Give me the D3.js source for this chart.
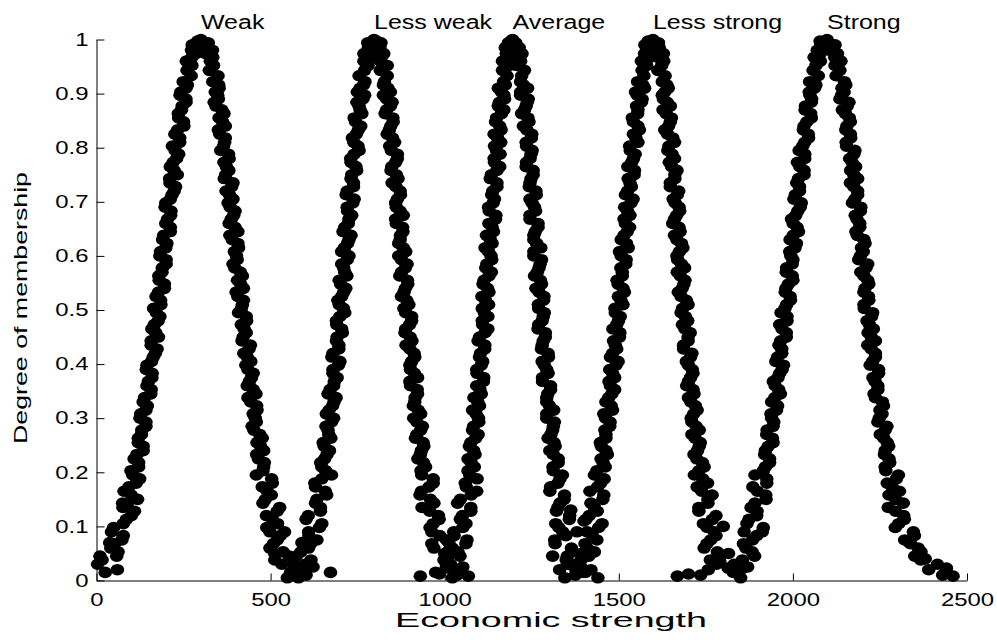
<!DOCTYPE html>
<html>
<head>
<meta charset="utf-8">
<script src="https://cdn.jsdelivr.net/npm/d3@7"></script>
<style>
  body { margin: 0; background: #fff; }
  svg text { font-family: "Liberation Sans", Arial, sans-serif; fill: #000; }
</style>
</head>
<body>
<script>
// Category names and where their labels start (x of each peak)
var categories = ["Weak", "Less weak", "Average", "Less strong", "Strong"];
var labelX = [300, 797, 1195, 1598, 2098];
var labelY = 1.02;

// Tick labels
var xTicks = [0, 500, 1000, 1500, 2000, 2500];
var yTicks = [0, 0.1, 0.2, 0.3, 0.4, 0.5, 0.6, 0.7, 0.8, 0.9, 1];

// Scatter points [economic strength, degree of membership]
var weak = [[3,0.03],[58,0.045],[41,0.06],[73,0.075],[43,0.09],[77,0.105],[100,0.12],[76,0.135],[118,0.15],[79,0.165],[114,0.18],[104,0.195],[121,0.21],[108,0.225],[134,0.24],[120,0.255],[129,0.27],[142,0.285],[125,0.3],[142,0.315],[134,0.33],[156,0.345],[145,0.36],[159,0.375],[143,0.39],[158,0.405],[169,0.42],[157,0.435],[178,0.45],[159,0.465],[177,0.48],[172,0.495],[185,0.51],[171,0.525],[195,0.54],[180,0.555],[188,0.57],[200,0.585],[182,0.6],[199,0.615],[190,0.63],[212,0.645],[199,0.66],[213,0.675],[197,0.69],[212,0.705],[223,0.72],[211,0.735],[232,0.75],[212,0.765],[230,0.78],[226,0.795],[239,0.81],[225,0.825],[251,0.84],[236,0.855],[244,0.87],[257,0.884],[240,0.897],[257,0.91],[249,0.922],[272,0.933],[260,0.943],[274,0.952],[258,0.96],[274,0.967],[285,0.974],[273,0.98],[294,0.985],[275,0.99],[293,0.994],[290,0.997],[300,1],
  [16,0.038],[62,0.053],[52,0.068],[77,0.083],[49,0.098],[86,0.113],[109,0.128],[75,0.143],[100,0.158],[93,0.173],[124,0.188],[99,0.203],[121,0.218],[116,0.233],[134,0.248],[120,0.263],[130,0.278],[142,0.293],[127,0.308],[146,0.323],[138,0.338],[157,0.353],[149,0.368],[160,0.383],[145,0.398],[163,0.413],[174,0.428],[157,0.443],[170,0.458],[166,0.473],[182,0.488],[164,0.503],[184,0.518],[178,0.533],[195,0.548],[179,0.563],[189,0.578],[200,0.593],[184,0.608],[202,0.623],[193,0.638],[212,0.653],[204,0.668],[214,0.683],[199,0.698],[217,0.713],[227,0.728],[210,0.743],[223,0.758],[220,0.773],[236,0.788],[218,0.803],[239,0.818],[233,0.833],[250,0.848],[235,0.863],[246,0.877],[257,0.89],[242,0.903],[261,0.916],
  [585,0.015],[532,0.03],[553,0.045],[498,0.06],[519,0.075],[498,0.09],[520,0.105],[488,0.12],[526,0.135],[485,0.15],[490,0.165],[505,0.18],[459,0.195],[480,0.21],[465,0.225],[480,0.24],[461,0.255],[469,0.27],[447,0.285],[456,0.3],[461,0.315],[443,0.33],[458,0.345],[433,0.36],[445,0.375],[435,0.39],[443,0.405],[423,0.42],[442,0.435],[421,0.45],[424,0.465],[431,0.48],[408,0.495],[419,0.51],[406,0.525],[422,0.54],[405,0.555],[413,0.57],[392,0.585],[402,0.6],[408,0.615],[390,0.63],[406,0.645],[381,0.66],[394,0.675],[384,0.69],[392,0.705],[372,0.72],[392,0.735],[371,0.75],[373,0.765],[381,0.78],[357,0.795],[368,0.81],[354,0.825],[370,0.84],[352,0.855],[360,0.87],[338,0.884],[348,0.897],[352,0.91],[334,0.922],[349,0.933],[324,0.943],[336,0.952],[327,0.96],[334,0.967],[314,0.974],[333,0.98],[312,0.985],[314,0.99],[321,0.994],[297,0.997],
  [573,0.023],[512,0.038],[536,0.053],[508,0.068],[528,0.083],[489,0.098],[505,0.113],[519,0.128],[478,0.143],[502,0.158],[476,0.173],[503,0.188],[478,0.203],[482,0.218],[460,0.233],[471,0.248],[476,0.263],[452,0.278],[459,0.293],[450,0.308],[460,0.323],[435,0.338],[450,0.353],[439,0.368],[450,0.383],[429,0.398],[433,0.413],[438,0.428],[418,0.443],[430,0.458],[416,0.473],[430,0.488],[416,0.503],[422,0.518],[401,0.533],[414,0.548],[419,0.563],[397,0.578],[404,0.593],[396,0.608],[406,0.623],[383,0.638],[398,0.653],[387,0.668],[398,0.683],[378,0.698],[382,0.713],[388,0.728],[367,0.743],[380,0.758],[366,0.773],[379,0.788],[365,0.803],[370,0.818],[350,0.833],[362,0.848],[366,0.863],[343,0.877],[350,0.89],[341,0.903],[351,0.916],
  [10,0.045],[25,0.015],[38,0.07],[60,0.02],[88,0.14],[548,0.005],[566,0.03],[512,0.05],[540,0.09]];

var lessWeak = [[557,0.015],[599,0.03],[574,0.045],[609,0.06],[633,0.075],[609,0.09],[647,0.105],[608,0.12],[643,0.135],[633,0.15],[657,0.165],[627,0.18],[675,0.195],[647,0.21],[655,0.225],[669,0.24],[651,0.255],[667,0.27],[659,0.285],[681,0.3],[668,0.315],[682,0.33],[665,0.345],[681,0.36],[691,0.375],[679,0.39],[699,0.405],[679,0.42],[696,0.435],[691,0.45],[704,0.465],[689,0.48],[713,0.495],[697,0.51],[704,0.525],[716,0.54],[697,0.555],[713,0.57],[704,0.585],[725,0.6],[712,0.615],[725,0.63],[708,0.645],[723,0.66],[733,0.675],[720,0.69],[740,0.705],[720,0.72],[738,0.735],[733,0.75],[745,0.765],[730,0.78],[754,0.795],[739,0.81],[746,0.825],[759,0.84],[740,0.855],[757,0.87],[748,0.884],[770,0.897],[757,0.91],[771,0.922],[754,0.933],[770,0.943],[780,0.952],[768,0.96],[788,0.967],[768,0.974],[786,0.98],[781,0.985],[793,0.99],[779,0.994],[804,0.997],[797,1],
  [583,0.023],[616,0.038],[587,0.053],[615,0.068],[610,0.083],[640,0.098],[602,0.113],[643,0.128],[629,0.143],[661,0.158],[629,0.173],[647,0.188],[658,0.203],[644,0.218],[662,0.233],[654,0.248],[673,0.263],[665,0.278],[675,0.293],[660,0.308],[678,0.323],[688,0.338],[671,0.353],[683,0.368],[679,0.383],[695,0.398],[676,0.413],[696,0.428],[689,0.443],[706,0.458],[690,0.473],[699,0.488],[709,0.503],[693,0.518],[710,0.533],[701,0.548],[719,0.563],[710,0.578],[720,0.593],[704,0.608],[721,0.623],[731,0.638],[713,0.653],[725,0.668],[721,0.683],[736,0.698],[717,0.713],[738,0.728],[731,0.743],[747,0.758],[731,0.773],[740,0.788],[751,0.803],[735,0.818],[752,0.833],[744,0.848],[762,0.863],[754,0.877],[765,0.89],[749,0.903],[767,0.916],
  [1039,0.015],[1005,0.03],[1012,0.045],[969,0.06],[1005,0.075],[963,0.09],[967,0.105],[982,0.12],[935,0.135],[959,0.15],[933,0.165],[967,0.18],[934,0.195],[945,0.21],[923,0.225],[933,0.24],[938,0.255],[920,0.27],[936,0.285],[911,0.3],[924,0.315],[914,0.33],[922,0.345],[902,0.36],[922,0.375],[902,0.39],[905,0.405],[912,0.42],[889,0.435],[901,0.45],[888,0.465],[905,0.48],[888,0.495],[897,0.51],[876,0.525],[887,0.54],[893,0.555],[876,0.57],[892,0.585],[868,0.6],[881,0.615],[872,0.63],[880,0.645],[861,0.66],[881,0.675],[861,0.69],[864,0.705],[872,0.72],[849,0.735],[861,0.75],[848,0.765],[864,0.78],[847,0.795],[856,0.81],[835,0.825],[845,0.84],[851,0.855],[833,0.87],[849,0.884],[824,0.897],[837,0.91],[827,0.922],[835,0.933],[815,0.943],[835,0.952],[815,0.96],[818,0.967],[825,0.974],[802,0.98],[814,0.985],[800,0.99],[817,0.994],
  [1004,0.023],[1002,0.038],[1008,0.053],[963,0.068],[986,0.083],[958,0.098],[984,0.113],[957,0.128],[969,0.143],[929,0.158],[955,0.173],[967,0.188],[932,0.203],[939,0.218],[930,0.233],[940,0.248],[916,0.263],[931,0.278],[920,0.293],[931,0.308],[910,0.323],[915,0.338],[921,0.353],[900,0.368],[913,0.383],[900,0.398],[914,0.413],[900,0.428],[906,0.443],[886,0.458],[899,0.473],[905,0.488],[883,0.503],[891,0.518],[883,0.533],[894,0.548],[871,0.563],[887,0.578],[876,0.593],[888,0.608],[868,0.623],[873,0.638],[879,0.653],[859,0.668],[872,0.683],[859,0.698],[873,0.713],[860,0.728],[866,0.743],[846,0.758],[859,0.773],[864,0.788],[842,0.803],[850,0.818],[841,0.833],[852,0.848],[829,0.863],[844,0.877],[833,0.89],[844,0.903],[824,0.916],
  [580,0.005],[602,0.01],[622,0.025],[590,0.07],[672,0.015],[930,0.008],[985,0.012],[1000,0.05],[1022,0.005]];

var average = [[974,0.015],[1017,0.03],[1044,0.045],[1022,0.06],[1064,0.075],[1026,0.09],[1061,0.105],[1051,0.12],[1075,0.135],[1045,0.15],[1092,0.165],[1059,0.18],[1072,0.195],[1085,0.21],[1067,0.225],[1083,0.24],[1075,0.255],[1096,0.27],[1083,0.285],[1097,0.3],[1080,0.315],[1095,0.33],[1105,0.345],[1092,0.36],[1112,0.375],[1092,0.39],[1109,0.405],[1103,0.42],[1115,0.435],[1100,0.45],[1124,0.465],[1108,0.48],[1114,0.495],[1126,0.51],[1107,0.525],[1123,0.54],[1113,0.555],[1134,0.57],[1121,0.585],[1133,0.6],[1116,0.615],[1131,0.63],[1140,0.645],[1127,0.66],[1147,0.675],[1126,0.69],[1143,0.705],[1138,0.72],[1150,0.735],[1134,0.75],[1158,0.765],[1142,0.78],[1149,0.795],[1161,0.81],[1142,0.825],[1158,0.84],[1149,0.855],[1170,0.87],[1157,0.884],[1170,0.897],[1154,0.91],[1169,0.922],[1179,0.933],[1166,0.943],[1186,0.952],[1166,0.96],[1182,0.967],[1177,0.974],[1189,0.98],[1174,0.985],[1198,0.99],[1183,0.994],[1190,0.997],[1195,1],
  [1020,0.023],[998,0.038],[1038,0.053],[1061,0.068],[1027,0.083],[1052,0.098],[1045,0.113],[1075,0.128],[1037,0.143],[1076,0.158],[1062,0.173],[1093,0.188],[1067,0.203],[1076,0.218],[1087,0.233],[1071,0.248],[1089,0.263],[1080,0.278],[1098,0.293],[1090,0.308],[1100,0.323],[1084,0.338],[1101,0.353],[1111,0.368],[1093,0.383],[1105,0.398],[1100,0.413],[1115,0.428],[1096,0.443],[1116,0.458],[1109,0.473],[1124,0.488],[1108,0.503],[1117,0.518],[1127,0.533],[1110,0.548],[1127,0.563],[1118,0.578],[1135,0.593],[1126,0.608],[1136,0.623],[1120,0.638],[1136,0.653],[1146,0.668],[1128,0.683],[1139,0.698],[1135,0.713],[1150,0.728],[1131,0.743],[1150,0.758],[1143,0.773],[1159,0.788],[1143,0.803],[1152,0.818],[1162,0.833],[1146,0.848],[1163,0.863],[1154,0.877],[1172,0.89],[1163,0.903],[1174,0.916],
  [1404,0.015],[1352,0.03],[1352,0.045],[1364,0.06],[1316,0.075],[1339,0.09],[1319,0.105],[1359,0.12],[1325,0.135],[1343,0.15],[1302,0.165],[1325,0.18],[1338,0.195],[1311,0.21],[1326,0.225],[1302,0.24],[1314,0.255],[1305,0.27],[1312,0.285],[1293,0.3],[1313,0.315],[1293,0.33],[1296,0.345],[1304,0.36],[1281,0.375],[1293,0.39],[1280,0.405],[1297,0.42],[1280,0.435],[1289,0.45],[1268,0.465],[1280,0.48],[1286,0.495],[1269,0.51],[1285,0.525],[1262,0.54],[1275,0.555],[1266,0.57],[1274,0.585],[1256,0.6],[1276,0.615],[1256,0.63],[1260,0.645],[1268,0.66],[1245,0.675],[1258,0.69],[1245,0.705],[1262,0.72],[1245,0.735],[1254,0.75],[1234,0.765],[1245,0.78],[1251,0.795],[1234,0.81],[1250,0.825],[1226,0.84],[1239,0.855],[1229,0.87],[1237,0.884],[1218,0.897],[1238,0.91],[1218,0.922],[1221,0.933],[1229,0.943],[1206,0.952],[1218,0.96],[1205,0.967],[1222,0.974],[1205,0.98],[1214,0.985],[1193,0.99],[1204,0.994],
  [1374,0.023],[1349,0.038],[1366,0.053],[1317,0.068],[1348,0.083],[1328,0.098],[1358,0.113],[1321,0.128],[1331,0.143],[1344,0.158],[1304,0.173],[1331,0.188],[1312,0.203],[1326,0.218],[1312,0.233],[1317,0.248],[1297,0.263],[1310,0.278],[1315,0.293],[1293,0.308],[1301,0.323],[1293,0.338],[1304,0.353],[1281,0.368],[1297,0.383],[1286,0.398],[1298,0.413],[1278,0.428],[1283,0.443],[1289,0.458],[1270,0.473],[1283,0.488],[1270,0.503],[1284,0.518],[1271,0.533],[1278,0.548],[1258,0.563],[1271,0.578],[1278,0.593],[1256,0.608],[1264,0.623],[1256,0.638],[1268,0.653],[1245,0.668],[1261,0.683],[1251,0.698],[1263,0.713],[1243,0.728],[1248,0.743],[1254,0.758],[1235,0.773],[1248,0.788],[1235,0.803],[1249,0.818],[1236,0.833],[1242,0.848],[1221,0.863],[1234,0.877],[1240,0.89],[1218,0.903],[1226,0.916],
  [1035,0.01],[1052,0.025],[1068,0.008],[1012,0.07],[1330,0.02],[1345,0.005],[1310,0.045],[1380,0.09],[1362,0.13]];

var lessStrong = [[1396,0.015],[1372,0.03],[1414,0.045],[1409,0.06],[1437,0.075],[1409,0.09],[1452,0.105],[1415,0.12],[1430,0.135],[1454,0.15],[1417,0.165],[1448,0.18],[1430,0.195],[1461,0.21],[1449,0.225],[1463,0.24],[1447,0.255],[1463,0.27],[1474,0.285],[1462,0.3],[1482,0.315],[1463,0.33],[1480,0.345],[1476,0.36],[1488,0.375],[1474,0.39],[1498,0.405],[1482,0.42],[1490,0.435],[1502,0.45],[1483,0.465],[1499,0.48],[1490,0.495],[1512,0.51],[1499,0.525],[1512,0.54],[1495,0.555],[1510,0.57],[1520,0.585],[1507,0.6],[1527,0.615],[1507,0.63],[1524,0.645],[1519,0.66],[1532,0.675],[1517,0.69],[1541,0.705],[1525,0.72],[1532,0.735],[1544,0.75],[1526,0.765],[1542,0.78],[1533,0.795],[1555,0.81],[1542,0.825],[1555,0.84],[1539,0.855],[1555,0.87],[1565,0.884],[1553,0.897],[1574,0.91],[1554,0.922],[1572,0.933],[1567,0.943],[1580,0.952],[1565,0.96],[1589,0.967],[1574,0.974],[1581,0.98],[1593,0.985],[1575,0.99],[1592,0.994],[1584,0.997],[1598,1],
  [1394,0.023],[1392,0.038],[1430,0.053],[1403,0.068],[1424,0.083],[1442,0.098],[1406,0.113],[1438,0.128],[1420,0.143],[1457,0.158],[1439,0.173],[1458,0.188],[1437,0.203],[1455,0.218],[1467,0.233],[1450,0.248],[1463,0.263],[1460,0.278],[1475,0.293],[1457,0.308],[1478,0.323],[1471,0.338],[1488,0.353],[1472,0.368],[1482,0.383],[1492,0.398],[1476,0.413],[1494,0.428],[1485,0.443],[1503,0.458],[1494,0.473],[1504,0.488],[1489,0.503],[1506,0.518],[1516,0.533],[1498,0.548],[1510,0.563],[1506,0.578],[1521,0.593],[1502,0.608],[1522,0.623],[1515,0.638],[1531,0.653],[1515,0.668],[1525,0.683],[1535,0.698],[1519,0.713],[1536,0.728],[1527,0.743],[1545,0.758],[1537,0.773],[1547,0.788],[1531,0.803],[1549,0.818],[1559,0.833],[1542,0.848],[1554,0.863],[1551,0.877],[1567,0.89],[1548,0.903],[1569,0.916],
  [1829,0.015],[1781,0.03],[1791,0.045],[1745,0.06],[1764,0.075],[1774,0.09],[1743,0.105],[1779,0.12],[1730,0.135],[1756,0.15],[1738,0.165],[1755,0.18],[1717,0.195],[1745,0.21],[1724,0.225],[1726,0.24],[1734,0.255],[1710,0.27],[1722,0.285],[1708,0.3],[1725,0.315],[1707,0.33],[1716,0.345],[1695,0.36],[1706,0.375],[1711,0.39],[1694,0.405],[1710,0.42],[1686,0.435],[1699,0.45],[1690,0.465],[1698,0.48],[1679,0.495],[1699,0.51],[1679,0.525],[1682,0.54],[1690,0.555],[1668,0.57],[1680,0.585],[1667,0.6],[1684,0.615],[1667,0.63],[1676,0.645],[1655,0.66],[1666,0.675],[1673,0.69],[1656,0.705],[1672,0.72],[1648,0.735],[1661,0.75],[1652,0.765],[1660,0.78],[1641,0.795],[1660,0.81],[1640,0.825],[1643,0.84],[1651,0.855],[1627,0.87],[1639,0.884],[1625,0.897],[1642,0.91],[1625,0.922],[1633,0.933],[1612,0.943],[1623,0.952],[1629,0.96],[1612,0.967],[1628,0.974],[1603,0.98],[1616,0.985],[1607,0.99],[1614,0.994],
  [1814,0.023],[1763,0.038],[1783,0.053],[1753,0.068],[1779,0.083],[1754,0.098],[1769,0.113],[1730,0.128],[1756,0.143],[1768,0.158],[1725,0.173],[1741,0.188],[1730,0.203],[1740,0.218],[1716,0.233],[1731,0.248],[1719,0.263],[1731,0.278],[1710,0.293],[1715,0.308],[1720,0.323],[1700,0.338],[1713,0.353],[1700,0.368],[1713,0.383],[1700,0.398],[1706,0.413],[1686,0.428],[1699,0.443],[1705,0.458],[1683,0.473],[1691,0.488],[1683,0.503],[1694,0.518],[1671,0.533],[1687,0.548],[1677,0.563],[1689,0.578],[1669,0.593],[1674,0.608],[1680,0.623],[1660,0.638],[1673,0.653],[1660,0.668],[1675,0.683],[1662,0.698],[1668,0.713],[1648,0.728],[1661,0.743],[1667,0.758],[1645,0.773],[1653,0.788],[1644,0.803],[1655,0.818],[1632,0.833],[1648,0.848],[1636,0.863],[1648,0.877],[1628,0.89],[1632,0.903],[1638,0.916],
  [1375,0.01],[1392,0.05],[1420,0.02],[1440,0.005],[1400,0.11],[1668,0.008],[1700,0.012],[1735,0.01],[1757,0.02],[1790,0.035]];

var strong = [[1842,0.015],[1831,0.03],[1890,0.045],[1865,0.06],[1884,0.075],[1912,0.09],[1868,0.105],[1896,0.12],[1880,0.135],[1923,0.15],[1898,0.165],[1925,0.18],[1891,0.195],[1921,0.21],[1933,0.225],[1921,0.24],[1943,0.255],[1925,0.27],[1943,0.285],[1939,0.3],[1953,0.315],[1939,0.33],[1964,0.345],[1949,0.36],[1957,0.375],[1969,0.39],[1951,0.405],[1968,0.42],[1960,0.435],[1981,0.45],[1969,0.465],[1983,0.48],[1966,0.495],[1982,0.51],[1992,0.525],[1980,0.54],[2000,0.555],[1981,0.57],[1998,0.585],[1994,0.6],[2006,0.615],[1992,0.63],[2016,0.645],[2001,0.66],[2008,0.675],[2021,0.69],[2003,0.705],[2019,0.72],[2011,0.735],[2032,0.75],[2020,0.765],[2034,0.78],[2018,0.795],[2034,0.81],[2044,0.825],[2032,0.84],[2053,0.855],[2035,0.87],[2053,0.884],[2049,0.897],[2062,0.91],[2048,0.922],[2073,0.933],[2058,0.943],[2066,0.952],[2079,0.96],[2061,0.967],[2078,0.974],[2070,0.98],[2091,0.985],[2080,0.99],[2094,0.994],[2078,0.997],[2098,1],
  [1857,0.023],[1855,0.038],[1883,0.053],[1858,0.068],[1896,0.083],[1915,0.098],[1874,0.113],[1897,0.128],[1891,0.143],[1922,0.158],[1885,0.173],[1925,0.188],[1915,0.203],[1933,0.218],[1919,0.233],[1929,0.248],[1941,0.263],[1926,0.278],[1945,0.293],[1937,0.308],[1956,0.323],[1948,0.338],[1959,0.353],[1944,0.368],[1962,0.383],[1973,0.398],[1956,0.413],[1968,0.428],[1965,0.443],[1981,0.458],[1962,0.473],[1983,0.488],[1977,0.503],[1993,0.518],[1978,0.533],[1987,0.548],[1998,0.563],[1982,0.578],[2000,0.593],[1991,0.608],[2010,0.623],[2001,0.638],[2012,0.653],[1996,0.668],[2014,0.683],[2024,0.698],[2007,0.713],[2019,0.728],[2016,0.743],[2032,0.758],[2013,0.773],[2034,0.788],[2028,0.803],[2045,0.818],[2030,0.833],[2040,0.848],[2051,0.863],[2036,0.877],[2054,0.89],[2047,0.903],[2066,0.916],
  [2440,0.015],[2415,0.03],[2350,0.045],[2360,0.06],[2321,0.075],[2346,0.09],[2304,0.105],[2318,0.12],[2274,0.135],[2295,0.15],[2306,0.165],[2271,0.18],[2303,0.195],[2265,0.21],[2276,0.225],[2265,0.24],[2271,0.255],[2251,0.27],[2270,0.285],[2248,0.3],[2250,0.315],[2257,0.33],[2233,0.345],[2244,0.36],[2230,0.375],[2246,0.39],[2229,0.405],[2237,0.42],[2215,0.435],[2225,0.45],[2231,0.465],[2213,0.48],[2229,0.495],[2204,0.51],[2217,0.525],[2207,0.54],[2215,0.555],[2195,0.57],[2215,0.585],[2194,0.6],[2197,0.615],[2204,0.63],[2181,0.645],[2192,0.66],[2179,0.675],[2195,0.69],[2178,0.705],[2186,0.72],[2165,0.735],[2175,0.75],[2180,0.765],[2163,0.78],[2178,0.795],[2153,0.81],[2165,0.825],[2155,0.84],[2162,0.855],[2142,0.87],[2161,0.884],[2140,0.897],[2141,0.91],[2148,0.922],[2124,0.933],[2135,0.943],[2121,0.952],[2138,0.96],[2120,0.967],[2128,0.974],[2106,0.98],[2116,0.985],[2121,0.99],[2103,0.994],
  [2441,0.023],[2367,0.038],[2368,0.053],[2338,0.068],[2349,0.083],[2294,0.098],[2320,0.113],[2295,0.128],[2317,0.143],[2276,0.158],[2285,0.173],[2297,0.188],[2267,0.203],[2278,0.218],[2263,0.233],[2275,0.248],[2261,0.263],[2265,0.278],[2244,0.293],[2256,0.308],[2260,0.323],[2237,0.338],[2244,0.353],[2236,0.368],[2246,0.383],[2222,0.398],[2237,0.413],[2225,0.428],[2237,0.443],[2216,0.458],[2220,0.473],[2226,0.488],[2205,0.503],[2218,0.518],[2204,0.533],[2218,0.548],[2204,0.563],[2210,0.578],[2189,0.593],[2202,0.608],[2207,0.623],[2185,0.638],[2192,0.653],[2184,0.668],[2194,0.683],[2171,0.698],[2186,0.713],[2175,0.728],[2186,0.743],[2166,0.758],[2170,0.773],[2175,0.788],[2154,0.803],[2166,0.818],[2152,0.833],[2165,0.848],[2151,0.863],[2156,0.877],[2135,0.89],[2147,0.903],[2152,0.916],
  [1815,0.05],[1850,0.005],[1870,0.025],[1800,0.1],[1860,0.09],[2390,0.02],[2460,0.008],[2430,0.01],[2380,0.04],[2335,0.07]];

var series = [weak, lessWeak, average, lessStrong, strong];

// Size of the page
var width = 997;
var height = 640;

var svg = d3.select("body")
  .append("svg")
  .attr("width", width)
  .attr("height", height);

// Plot box
var xScale = d3.scaleLinear()
  .domain([0, 2500])
  .range([96.5, 967]);

var yScale = d3.scaleLinear()
  .domain([0, 1])
  .range([580.5, 39.5]);

// Dots
var points = svg.append("g").attr("id", "points");
series.forEach(function(s) {
  points.selectAll(null)
    .data(s)
    .enter()
    .append("ellipse")
    .attr("cx", function(d) { return xScale(d[0]); })
    .attr("cy", function(d) { return yScale(d[1]); })
    .attr("rx", 6.8)
    .attr("ry", 5.8)
    .style("fill", "#000");
});

// Axes (ticks drawn inward like MATLAB)
var yAxis = d3.axisLeft(yScale)
  .tickValues(yTicks)
  .tickFormat(d3.format(""))
  .tickSizeInner(-8)
  .tickSizeOuter(0)
  .tickPadding(6);

var xAxis = d3.axisBottom(xScale)
  .tickValues(xTicks)
  .tickFormat(d3.format(""))
  .tickSizeInner(-7)
  .tickSizeOuter(0)
  .tickPadding(13);

var gy = svg.append("g")
  .attr("transform", "translate(" + xScale(0) + ",0)")
  .call(yAxis);

var gx = svg.append("g")
  .attr("transform", "translate(0," + yScale(0) + ")")
  .call(xAxis);

[gx, gy].forEach(function(g) {
  g.attr("font-size", 18).attr("font-family", null);
  g.selectAll("path, line").attr("stroke", "#000");
  g.selectAll("text").attr("transform", "scale(1.33,1)");
});

// Category labels above the peaks
svg.selectAll(".cat")
  .data(categories)
  .enter()
  .append("text")
  .attr("class", "cat")
  .attr("transform", function(d, i) {
    return "translate(" + xScale(labelX[i]) + "," + yScale(labelY) + ") scale(1.25,1)";
  })
  .attr("font-size", 20)
  .text(function(d) { return d; });

// Axis titles
svg.append("text")
  .attr("x", 551)
  .attr("y", 627)
  .attr("text-anchor", "middle")
  .attr("font-size", 20)
  .attr("textLength", 312)
  .attr("lengthAdjust", "spacingAndGlyphs")
  .text("Economic strength");

svg.append("text")
  .attr("transform", "translate(27,308) rotate(-90)")
  .attr("text-anchor", "middle")
  .attr("font-size", 19)
  .attr("textLength", 272)
  .attr("lengthAdjust", "spacingAndGlyphs")
  .text("Degree of membership");
</script>
</body>
</html>
